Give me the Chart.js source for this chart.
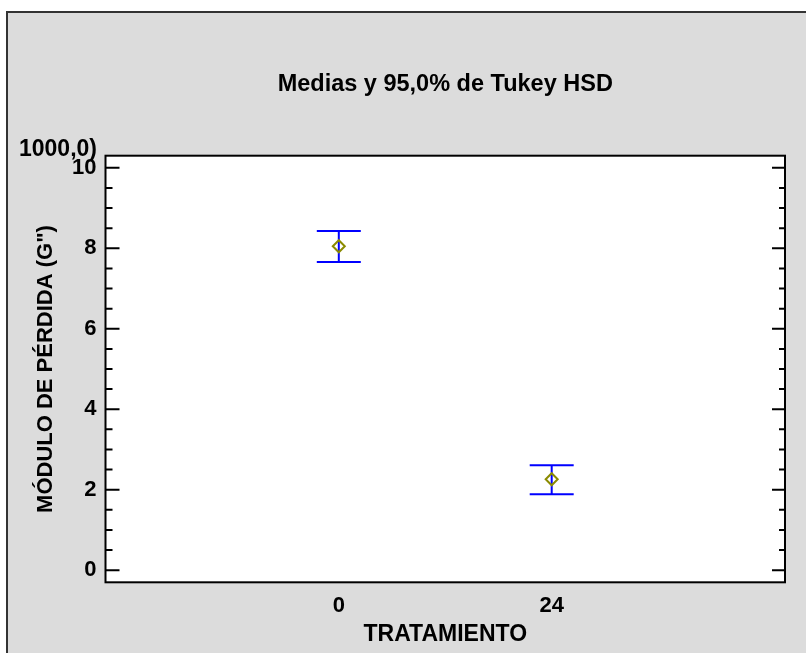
<!DOCTYPE html>
<html lang="es">
<head>
<meta charset="utf-8">
<title>Medias y 95,0% de Tukey HSD</title>
<script src="https://cdn.jsdelivr.net/npm/chart.js@4.4.1/dist/chart.umd.min.js"></script>
<style>
    html, body { margin: 0; padding: 0; background: #ffffff; }
    #contenedor { position: relative; width: 806px; height: 653px; }
</style>
</head>
<body>
<div id="contenedor"><canvas id="grafico"></canvas></div>
<script>
// Datos (medias e intervalos HSD de Tukey)
const tratamientos = [0, 24];
const medias = [8.05, 2.26];
const limiteInferior = [7.66, 1.89];
const limiteSuperior = [8.43, 2.61];
const marcasY = [0, 2, 4, 6, 8, 10];
const marcasMenoresY = [0.5, 1, 1.5, 2.5, 3, 3.5, 4.5, 5, 5.5, 6.5, 7, 7.5, 8.5, 9, 9.5];

const familia = "'Liberation Sans', Arial, sans-serif";
const fuente = { family: familia, size: 22, weight: 'bold' };

// Fondo gris del panel y área blanca del gráfico
const fondoPanel = {
    id: 'fondoPanel',
    beforeDraw(chart) {
        const ctx = chart.ctx;
        const area = chart.chartArea;
        ctx.save();
        ctx.fillStyle = '#ffffff';
        ctx.fillRect(0, 0, chart.width, chart.height);
        ctx.fillStyle = '#dcdcdc';
        ctx.fillRect(6, 11, chart.width, chart.height);
        ctx.strokeStyle = '#333333';
        ctx.lineWidth = 2;
        ctx.strokeRect(7, 12, chart.width + 10, chart.height + 10);
        ctx.fillStyle = '#ffffff';
        ctx.fillRect(area.left, area.top, area.right - area.left, area.bottom - area.top);
        ctx.restore();
    }
};

// Barras de error (intervalos de Tukey)
const barrasError = {
    id: 'barrasError',
    beforeDatasetsDraw(chart) {
        const ctx = chart.ctx;
        const x = chart.scales.x;
        const y = chart.scales.y;
        ctx.save();
        ctx.strokeStyle = '#0000ff';
        ctx.lineWidth = 2;
        tratamientos.forEach((t, i) => {
            const px = x.getPixelForValue(t);
            const yInf = y.getPixelForValue(limiteInferior[i]);
            const ySup = y.getPixelForValue(limiteSuperior[i]);
            ctx.beginPath();
            ctx.moveTo(px, yInf);
            ctx.lineTo(px, ySup);
            ctx.moveTo(px - 22, ySup);
            ctx.lineTo(px + 22, ySup);
            ctx.moveTo(px - 22, yInf);
            ctx.lineTo(px + 22, yInf);
            ctx.stroke();
        });
        ctx.restore();
    }
};

// Marco del gráfico, marcas interiores y texto del factor de escala
const marco = {
    id: 'marco',
    afterDraw(chart) {
        const ctx = chart.ctx;
        const area = chart.chartArea;
        const y = chart.scales.y;
        ctx.save();
        ctx.strokeStyle = '#000000';
        ctx.lineWidth = 2;
        ctx.strokeRect(area.left, area.top, area.right - area.left, area.bottom - area.top);
        ctx.beginPath();
        marcasY.forEach(v => {
            const py = y.getPixelForValue(v);
            ctx.moveTo(area.left, py);
            ctx.lineTo(area.left + 14, py);
            ctx.moveTo(area.right, py);
            ctx.lineTo(area.right - 13, py);
        });
        marcasMenoresY.forEach(v => {
            const py = y.getPixelForValue(v);
            ctx.moveTo(area.left, py);
            ctx.lineTo(area.left + 7, py);
            ctx.moveTo(area.right, py);
            ctx.lineTo(area.right - 6, py);
        });
        ctx.stroke();
        ctx.fillStyle = '#000000';
        ctx.font = 'bold 23px ' + familia;
        ctx.textAlign = 'right';
        ctx.textBaseline = 'alphabetic';
        ctx.fillText('1000,0)', 97, 156);
        ctx.restore();
    }
};

new Chart(document.getElementById('grafico'), {
    type: 'scatter',
    data: {
        datasets: [{
            label: 'Medias',
            data: tratamientos.map((t, i) => ({ x: t, y: medias[i] })),
            pointStyle: 'rectRot',
            pointRadius: 6,
            pointHoverRadius: 6,
            borderColor: '#8b8b00',
            backgroundColor: 'rgba(0,0,0,0)',
            borderWidth: 2
        }]
    },
    options: {
        responsive: true,
        maintainAspectRatio: false,
        animation: false,
        layout: { padding: { left: 0, top: 0, right: 21, bottom: 0 } },
        plugins: {
            legend: { display: false },
            tooltip: { enabled: false },
            title: {
                display: true,
                fullSize: false,
                text: 'Medias y 95,0% de Tukey HSD',
                color: '#000000',
                font: { family: familia, size: 23.5, weight: 'bold' },
                padding: { top: 70, bottom: 57.5 }
            }
        },
        scales: {
            x: {
                type: 'linear',
                min: -26.3,
                max: 50.3,
                afterBuildTicks: scale => { scale.ticks = tratamientos.map(v => ({ value: v })); },
                afterFit: scale => { scale.height = 70.7; },
                grid: { display: false, drawTicks: false },
                border: { display: false },
                ticks: { color: '#000000', font: fuente, padding: 10, maxRotation: 0 },
                title: {
                    display: true,
                    text: 'TRATAMIENTO',
                    color: '#000000',
                    font: { family: familia, size: 23, weight: 'bold' },
                    padding: { top: 0, bottom: 5 }
                }
            },
            y: {
                min: -0.3,
                max: 10.3,
                afterBuildTicks: scale => { scale.ticks = marcasY.map(v => ({ value: v })); },
                afterFit: scale => { scale.width = 105.5; },
                grid: { display: false, drawTicks: false },
                border: { display: false },
                ticks: { color: '#000000', font: fuente, padding: 9 },
                title: {
                    display: true,
                    text: 'MÓDULO DE PÉRDIDA (G")',
                    color: '#000000',
                    font: fuente,
                    padding: { top: 33, bottom: 0 }
                }
            }
        }
    },
    plugins: [fondoPanel, barrasError, marco]
});
</script>
</body>
</html>
